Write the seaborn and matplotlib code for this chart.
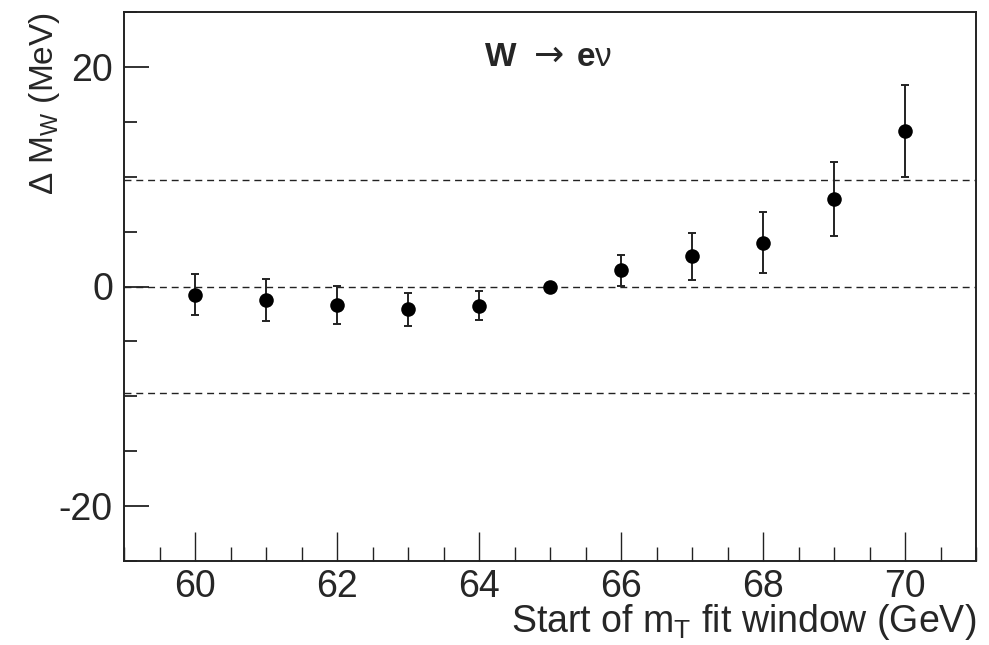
import matplotlib
matplotlib.use("Agg")
import matplotlib.pyplot as plt
import numpy as np
import pandas as pd
import seaborn as sns
from matplotlib.ticker import MultipleLocator, FixedLocator

# ---- data ----
fit_start = [60, 61, 62, 63, 64, 65, 66, 67, 68, 69, 70]
delta_mw = [-0.76, -1.22, -1.64, -2.07, -1.74, 0.0, 1.46, 2.74, 3.99, 7.97, 14.18]
delta_err = [1.87, 1.92, 1.73, 1.52, 1.31, 0.0, 1.40, 2.16, 2.76, 3.41, 4.20]
ref_lines = [-9.7, 0.0, 9.7]
x_major = [60, 62, 64, 66, 68, 70]
y_major = [-20, 0, 20]

df = pd.DataFrame({"start": fit_start, "dmw": delta_mw, "err": delta_err})

sns.set_style("white")
plt.rcParams["font.family"] = ["Liberation Sans", "DejaVu Sans"]
plt.rcParams["mathtext.fontset"] = "custom"
plt.rcParams["mathtext.rm"] = "Liberation Sans"
plt.rcParams["mathtext.it"] = "Liberation Sans:italic"
plt.rcParams["mathtext.bf"] = "Liberation Sans:bold"
plt.rcParams["axes.unicode_minus"] = False

fig = plt.figure(figsize=(9.89, 6.45), dpi=100)
ax = fig.add_axes([124 / 989, (645 - 561) / 645, (976 - 124) / 989, (561 - 12) / 645])

for yv in ref_lines:
    ax.axhline(yv, color="#222222", lw=1.0, dashes=(5, 3.5), zorder=1)

ax.errorbar(df["start"], df["dmw"], yerr=df["err"], fmt="none", ecolor="#222222",
            elinewidth=1.4, capsize=2.6, capthick=1.4, zorder=2)
sns.scatterplot(data=df, x="start", y="dmw", ax=ax, color="black", s=110,
                edgecolor="black", linewidth=0, zorder=3, legend=False)

ax.set_xlim(59, 71)
ax.set_ylim(-25, 25)
ax.xaxis.set_major_locator(FixedLocator(x_major))
ax.xaxis.set_minor_locator(MultipleLocator(0.5))
ax.yaxis.set_major_locator(FixedLocator(y_major))
ax.yaxis.set_minor_locator(MultipleLocator(5))

ax.tick_params(axis="x", which="major", direction="in", length=21, width=1.0,
               labelsize=27, pad=6, color="#222222", bottom=True, top=False)
ax.tick_params(axis="x", which="minor", direction="in", length=10, width=1.0,
               color="#222222", bottom=True, top=False)
ax.tick_params(axis="y", which="major", direction="in", length=18, width=1.3,
               labelsize=27, pad=8, color="#222222", left=True, right=False)
ax.tick_params(axis="y", which="minor", direction="in", length=9, width=1.3,
               color="#222222", left=True, right=False)

for sp in ax.spines.values():
    sp.set_color("#222222")
    sp.set_linewidth(1.4)

ax.set_xlabel(r"Start of m$_\mathregular{T}$ fit window (GeV)", fontsize=27, loc="right")
ax.xaxis.set_label_coords(1.0, -0.074)
ax.set_ylabel(r"$\Delta$ M$_\mathregular{W}$ (MeV)", fontsize=24, loc="top")
ax.yaxis.set_label_coords(-0.073, 1.0)

# title pieces: bold W, arrow, bold e + nu
ty = (561 - 65.7) / 549
ax.text((485 - 124) / 852, ty, "W", transform=ax.transAxes, fontsize=24,
        fontweight="bold", ha="left", va="baseline")
ax.text((549 - 124) / 852, ty, "\u2192", transform=ax.transAxes, fontsize=26,
        family=["DejaVu Sans"], ha="center", va="baseline")
ax.text((576 - 124) / 852, ty, r"$\mathbf{e}$ν", transform=ax.transAxes, fontsize=24,
        ha="left", va="baseline")

fig.savefig("out.png", dpi=100)
